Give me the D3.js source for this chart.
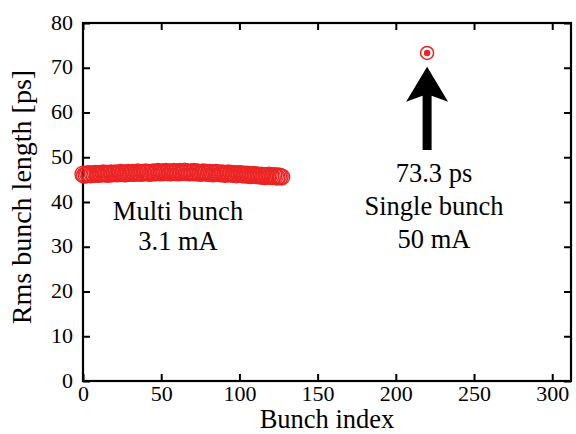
<!DOCTYPE html>
<html>
<head>
<meta charset="utf-8">
<script src="https://cdn.jsdelivr.net/npm/d3@7"></script>
<style>
  body { margin: 0; background: #fff; }
  text { font-family: "Liberation Serif", "Times New Roman", serif; fill: #000; }
</style>
</head>
<body>
<div id="container"></div>
<script>
/* CONSTANTS AND GLOBALS */
const width = 576,
  height = 434,
  margin = { top: 23, right: 5, bottom: 53, left: 83 };

/* DATA */
// multi bunch: rms bunch length [ps] for bunch index 0..127
const multiLength = [
  46.2, 46.0, 46.1, 46.3, 46.2, 46.1, 46.3, 46.2, 46.4, 46.3,
  46.2, 46.4, 46.3, 46.5, 46.3, 46.4, 46.2, 46.4, 46.5, 46.3,
  46.4, 46.5, 46.3, 46.4, 46.6, 46.4, 46.5, 46.3, 46.5, 46.6,
  46.4, 46.5, 46.6, 46.4, 46.5, 46.7, 46.5, 46.4, 46.6, 46.5,
  46.7, 46.5, 46.6, 46.4, 46.6, 46.7, 46.5, 46.6, 46.8, 46.6,
  46.5, 46.7, 46.6, 46.8, 46.6, 46.7, 46.5, 46.7, 46.8, 46.6,
  46.7, 46.5, 46.8, 46.6, 46.7, 46.9, 46.6, 46.7, 46.5, 46.7,
  46.6, 46.8, 46.5, 46.7, 46.6, 46.4, 46.6, 46.7, 46.5, 46.6,
  46.4, 46.6, 46.5, 46.3, 46.5, 46.6, 46.4, 46.5, 46.3, 46.5,
  46.4, 46.2, 46.4, 46.5, 46.3, 46.4, 46.2, 46.3, 46.1, 46.3,
  46.2, 46.3, 46.1, 46.2, 46.0, 46.2, 46.1, 45.9, 46.1, 46.0,
  46.1, 45.9, 46.0, 45.8, 46.0, 45.9, 45.7, 45.9, 45.8, 46.0,
  45.8, 45.7, 45.9, 45.8, 45.6, 45.8, 45.7, 45.6
];
const multiIndex = multiLength.map((d, i) => i);

const singleIndex = 220;
const singleLength = 73.3;

const arrowFrom = [220, 51.6];
const arrowTo = [220, 70.2];

const xTicks = [0, 50, 100, 150, 200, 250, 300];
const yTicks = [0, 10, 20, 30, 40, 50, 60, 70, 80];

const multiLabel = ["Multi bunch", "3.1 mA"];
const singleLabel = ["73.3 ps", "Single bunch", "50 mA"];

const red = "#ec2424";

/* SVG */
const svg = d3.select("#container").append("svg")
  .attr("width", width)
  .attr("height", height);

/* SCALES */
const xScale = d3.scaleLinear()
  .domain([0, 312])
  .range([margin.left, width - margin.right]);

const yScale = d3.scaleLinear()
  .domain([0, 80])
  .range([height - margin.bottom, margin.top]);

const x0 = xScale.range()[0], x1 = xScale.range()[1];
const y0 = yScale.range()[0], y1 = yScale.range()[1];
const tickLen = 7;

/* AXES (ticks inside, on all four sides) */
const xAxisB = d3.axisBottom(xScale).tickValues(xTicks).tickSize(-tickLen);
const xAxisT = d3.axisTop(xScale).tickValues(xTicks).tickSize(-tickLen).tickFormat("");
const yAxisL = d3.axisLeft(yScale).tickValues(yTicks).tickSize(-tickLen);
const yAxisR = d3.axisRight(yScale).tickValues(yTicks).tickSize(-tickLen).tickFormat("");

function styleAxis(g) {
  g.select(".domain").remove();
  g.selectAll(".tick line").attr("stroke", "#000").attr("stroke-width", 2);
  g.selectAll(".tick text")
    .style("font-family", "'Liberation Serif', serif")
    .style("font-size", "22px")
    .attr("fill", "#000");
}

svg.append("g")
  .attr("transform", `translate(0,${y0})`)
  .call(xAxisB)
  .call(styleAxis)
  .selectAll(".tick text").attr("dy", null).attr("y", 20);

svg.append("g")
  .attr("transform", `translate(0,${y1})`)
  .call(xAxisT)
  .call(styleAxis);

svg.append("g")
  .attr("transform", `translate(${x0},0)`)
  .call(yAxisL)
  .call(styleAxis)
  .selectAll(".tick text").attr("dy", null).attr("y", 6).attr("x", -10);

svg.append("g")
  .attr("transform", `translate(${x1},0)`)
  .call(yAxisR)
  .call(styleAxis);

// frame
svg.append("rect")
  .attr("x", x0).attr("y", y1)
  .attr("width", x1 - x0).attr("height", y0 - y1)
  .attr("fill", "none")
  .attr("stroke", "#000")
  .attr("stroke-width", 2.2);

/* MARKS */
svg.append("g").selectAll("circle.multi")
  .data(multiIndex)
  .join("circle")
  .attr("class", "multi")
  .attr("cx", i => xScale(i))
  .attr("cy", i => yScale(multiLength[i]))
  .attr("r", 8)
  .attr("fill", "none")
  .attr("stroke", red)
  .attr("stroke-width", 1.4);

// single bunch point
svg.append("circle")
  .attr("cx", xScale(singleIndex))
  .attr("cy", yScale(singleLength))
  .attr("r", 6.5)
  .attr("fill", "none")
  .attr("stroke", red)
  .attr("stroke-width", 1.5);

svg.append("circle")
  .attr("cx", xScale(singleIndex))
  .attr("cy", yScale(singleLength))
  .attr("r", 3.2)
  .attr("fill", red);

// arrow
const ax = xScale(arrowTo[0]);
const tipY = yScale(arrowTo[1]);
const baseY = yScale(arrowFrom[1]);
const shaftW = 4.5, headW = 21, headL = 35, notch = 6;
svg.append("path")
  .attr("d", [
    `M${ax},${tipY}`,
    `L${ax + headW},${tipY + headL}`,
    `L${ax + shaftW},${tipY + headL - notch}`,
    `L${ax + shaftW},${baseY}`,
    `L${ax - shaftW},${baseY}`,
    `L${ax - shaftW},${tipY + headL - notch}`,
    `L${ax - headW},${tipY + headL}`,
    "Z"
  ].join(""))
  .attr("fill", "#000");

/* ANNOTATIONS */
svg.append("g").selectAll("text")
  .data(multiLabel)
  .join("text")
  .attr("x", 178)
  .attr("y", (d, i) => 220 + i * 30)
  .attr("text-anchor", "middle")
  .style("font-size", "26.5px")
  .text(d => d);

svg.append("g").selectAll("text")
  .data(singleLabel)
  .join("text")
  .attr("x", 434)
  .attr("y", (d, i) => 182 + i * 33)
  .attr("text-anchor", "middle")
  .style("font-size", "26.5px")
  .text(d => d);

/* AXIS TITLES */
svg.append("text")
  .attr("x", (x0 + x1) / 2)
  .attr("y", 428)
  .attr("text-anchor", "middle")
  .style("font-size", "26.5px")
  .text("Bunch index");

svg.append("text")
  .attr("transform", `translate(31,${(y0 + y1) / 2 - 5}) rotate(-90)`)
  .attr("text-anchor", "middle")
  .style("font-size", "28px")
  .text("Rms bunch length [ps]");
</script>
</body>
</html>
